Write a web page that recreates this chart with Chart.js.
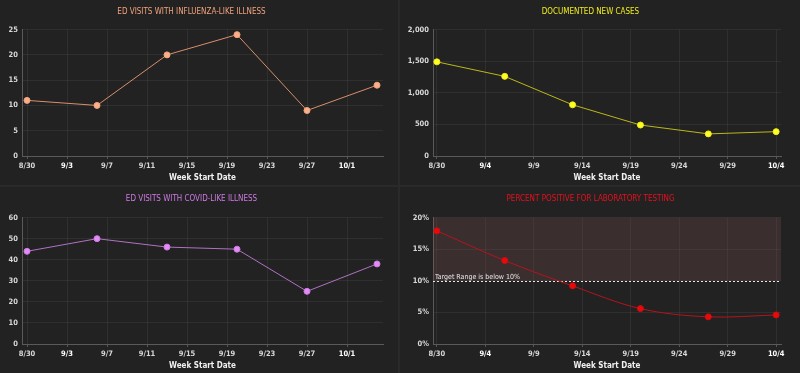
<!DOCTYPE html>
<html>
<head>
<meta charset="utf-8">
<script src="https://cdn.jsdelivr.net/npm/chart.js@4.4.0/dist/chart.umd.min.js"></script>
<style>
    html, body { margin: 0; padding: 0; background: #2a2a2a; }
    #grid {
        width: 800px; height: 373px;
        display: grid;
        grid-template-columns: 398px 400px;
        grid-template-rows: 185px 186px;
        column-gap: 2px; row-gap: 2px;
    }
    .panel { background: #222222; position: relative; }
    canvas { display: block; }
</style>
</head>
<body>
<div id="grid">
    <div class="panel"><canvas id="fluChart" width="398" height="185"></canvas></div>
    <div class="panel"><canvas id="casesChart" width="400" height="185"></canvas></div>
    <div class="panel"><canvas id="covidChart" width="398" height="186"></canvas></div>
    <div class="panel"><canvas id="pctChart" width="400" height="186"></canvas></div>
</div>
<script>
// week start dates of the data points
const weekDates = ['8/30', '9/6', '9/13', '9/20', '9/27', '10/4'];

// series values
const fluVisits = [11, 10, 20, 24, 9, 14];
const newCases = [1490, 1260, 810, 490, 350, 385];
const covidVisits = [44, 50, 46, 45, 25, 38];
const percentPositive = [17.9, 13.2, 9.2, 5.6, 4.3, 4.6];

// x tick labels (left charts every 4 days, right charts every 5 days)
const leftTickLabels = ['8/30', '9/3', '9/7', '9/11', '9/15', '9/19', '9/23', '9/27', '10/1'];
const rightTickLabels = ['8/30', '9/4', '9/9', '9/14', '9/19', '9/24', '9/29', '10/4'];
const leftBoldLabels = ['9/3', '10/1'];
const rightBoldLabels = ['9/4', '10/4'];

const targetLimit = 10;
const targetLabel = 'Target Range is below 10%';

function dayNum(label) {
    let parts = label.split('/');
    let d = Date.UTC(2020, parseInt(parts[0]) - 1, parseInt(parts[1]));
    return Math.round((d - Date.UTC(2020, 7, 30)) / 86400000);
}

const FONT = '"Liberation Sans Narrow", "DejaVu Sans Condensed", sans-serif';

// shaded target range + dashed line for percent positive chart
const targetBand = {
    id: 'targetBand',
    beforeDatasetsDraw(chart) {
        const ctx = chart.ctx;
        const area = chart.chartArea;
        const y = chart.scales.y;
        const yTop = y.getPixelForValue(y.max);
        const yLim = y.getPixelForValue(targetLimit);
        ctx.save();
        ctx.fillStyle = 'rgba(125, 80, 85, 0.27)';
        ctx.fillRect(area.left, yTop, area.right - area.left, yLim - yTop);
        ctx.strokeStyle = '#e8e8e8';
        ctx.lineWidth = 1;
        ctx.setLineDash([2, 2]);
        ctx.beginPath();
        ctx.moveTo(area.left, Math.round(yLim) + 0.5);
        ctx.lineTo(area.right, Math.round(yLim) + 0.5);
        ctx.stroke();
        ctx.setLineDash([]);
        ctx.fillStyle = '#e8e8e8';
        ctx.font = '7px ' + FONT;
        ctx.textBaseline = 'bottom';
        ctx.fillText(targetLabel, area.left + 2, yLim - 0.5);
        ctx.restore();
    }
};

function makeChart(canvasId, opts) {
    let tickLabels = opts.tickLabels;
    let boldLabels = opts.boldLabels;
    let tickValues = tickLabels.map(dayNum);
    let points = weekDates.map((d, i) => ({ x: dayNum(d), y: opts.values[i] }));

    function isBold(c) {
        return c && c.tick && boldLabels.includes(c.tick.label);
    }

    return new Chart(document.getElementById(canvasId), {
        type: 'line',
        data: {
            datasets: [
                {
                    data: points,
                    borderColor: opts.lineColor,
                    borderWidth: 1,
                    pointRadius: 3,
                    pointBorderWidth: 1,
                    pointBackgroundColor: opts.pointColor,
                    pointBorderColor: opts.pointBorder,
                    tension: opts.tension || 0
                }
            ]
        },
        options: {
            responsive: false,
            animation: false,
            layout: { padding: { left: 0, right: opts.padRight, top: 0, bottom: 0 } },
            plugins: {
                legend: { display: false },
                tooltip: { enabled: false },
                title: {
                    display: true,
                    text: opts.title,
                    color: opts.titleColor,
                    font: { family: FONT, size: 8, weight: 'normal' },
                    padding: { top: 7, bottom: opts.titleGap }
                }
            },
            scales: {
                x: {
                    type: 'linear',
                    min: opts.xMin,
                    max: opts.xMax,
                    afterBuildTicks: function (scale) {
                        scale.ticks = tickValues.map(v => ({ value: v }));
                    },
                    afterFit: function (scale) {
                        scale.height = 29;
                    },
                    ticks: {
                        autoSkip: false,
                        maxRotation: 0,
                        padding: 3,
                        callback: function (v, i) { return tickLabels[i]; },
                        color: function (c) {
                            return isBold(c) ? '#ffffff' : '#d8d8d8';
                        },
                        font: { family: FONT, size: 7.5, weight: 'bold' }
                    },
                    grid: { color: 'rgba(255,255,255,0.06)', tickLength: 3, tickColor: '#555' },
                    border: { color: '#5a5a5a' },
                    title: {
                        display: true,
                        text: 'Week Start Date',
                        color: '#f0f0f0',
                        font: { family: FONT, size: 8, weight: 'bold' },
                        padding: { top: 3, bottom: 2 }
                    }
                },
                y: {
                    min: 0,
                    max: opts.yMax,
                    afterFit: function (scale) {
                        scale.width = opts.yWidth;
                    },
                    ticks: {
                        stepSize: opts.yStep,
                        padding: 4,
                        color: '#d8d8d8',
                        font: { family: FONT, size: 7.5, weight: 'bold' },
                        callback: opts.yFormat || function (v) { return v.toLocaleString('en-US'); }
                    },
                    grid: { color: 'rgba(255,255,255,0.06)', drawTicks: false },
                    border: { color: '#5a5a5a' }
                }
            }
        },
        plugins: opts.extraPlugins || []
    });
}

function initCharts() {
    makeChart('fluChart', {
        title: 'ED VISITS WITH INFLUENZA-LIKE ILLNESS',
        titleColor: '#f3a37c',
        values: fluVisits,
        lineColor: '#d98f6c',
        pointColor: '#f9b08a',
        pointBorder: '#f3a37c',
        tickLabels: leftTickLabels,
        boldLabels: leftBoldLabels,
        xMin: -0.5, xMax: 35.6,
        yMax: 25, yStep: 5, yWidth: 22,
        padRight: 15, titleGap: 13
    });

    makeChart('casesChart', {
        title: 'DOCUMENTED NEW CASES',
        titleColor: '#f0ec1a',
        values: newCases,
        lineColor: '#bdb818',
        pointColor: '#ffff22',
        pointBorder: '#f0ec1a',
        tickLabels: rightTickLabels,
        boldLabels: rightBoldLabels,
        xMin: -0.4, xMax: 35.5,
        yMax: 2000, yStep: 500, yWidth: 33,
        padRight: 19, titleGap: 13
    });

    makeChart('covidChart', {
        title: 'ED VISITS WITH COVID-LIKE ILLNESS',
        titleColor: '#d07ae6',
        values: covidVisits,
        lineColor: '#b172c4',
        pointColor: '#e08ef3',
        pointBorder: '#d07ae6',
        tickLabels: leftTickLabels,
        boldLabels: leftBoldLabels,
        xMin: -0.5, xMax: 35.6,
        yMax: 60, yStep: 10, yWidth: 22,
        padRight: 15, titleGap: 14
    });

    makeChart('pctChart', {
        title: 'PERCENT POSITIVE FOR LABORATORY TESTING',
        titleColor: '#e8101e',
        values: percentPositive,
        lineColor: '#b5141c',
        pointColor: '#e80a0a',
        pointBorder: '#d60a10',
        tension: 0.35,
        tickLabels: rightTickLabels,
        boldLabels: rightBoldLabels,
        xMin: -0.4, xMax: 35.5,
        yMax: 20, yStep: 5, yWidth: 33,
        yFormat: function (v) { return v + '%'; },
        padRight: 19, titleGap: 14,
        extraPlugins: [targetBand]
    });
}

window.addEventListener('load', initCharts);
</script>
</body>
</html>
